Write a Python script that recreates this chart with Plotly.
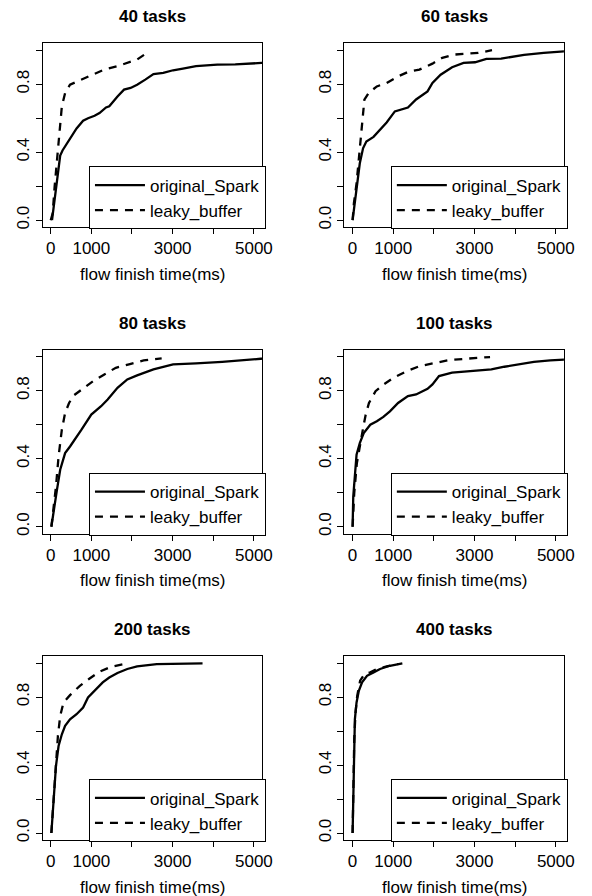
import plotly.graph_objects as go

# ---------------- data ----------------
panel_titles = ["40 tasks", "60 tasks", "80 tasks", "100 tasks", "200 tasks", "400 tasks"]
series_names = ["original_Spark", "leaky_buffer"]

x_tick_vals = [0, 1000, 2000, 3000, 4000, 5000]
x_tick_text = ["0", "1000", "", "3000", "", "5000"]
y_tick_vals = [0.0, 0.2, 0.4, 0.6, 0.8, 1.0]
y_tick_text = ["0.0", "", "0.4", "", "0.8", ""]
x_title = "flow finish time(ms)"

spark_40_x = [32, 72, 153, 233, 290, 394, 515, 636, 797, 918, 1079, 1200, 1361, 1441, 1643, 1804, 1965, 2126, 2327, 2528, 2770, 3011, 3253, 3575, 4098, 4541, 5185, 5400]
spark_40_y = [0.0, 0.08, 0.24, 0.38, 0.41, 0.45, 0.49, 0.54, 0.585, 0.60, 0.614, 0.63, 0.663, 0.67, 0.728, 0.768, 0.778, 0.797, 0.827, 0.86, 0.866, 0.882, 0.892, 0.906, 0.915, 0.917, 0.925, 0.927]
leaky_40_x = [0, 48, 97, 153, 209, 274, 354, 475, 717, 1039, 1320, 1643, 1965, 2126, 2367]
leaky_40_y = [0.0, 0.04, 0.2, 0.354, 0.53, 0.67, 0.748, 0.797, 0.823, 0.856, 0.886, 0.906, 0.929, 0.945, 0.984]

spark_60_x = [0, 32, 97, 177, 257, 338, 515, 660, 837, 1039, 1200, 1361, 1562, 1844, 1965, 2166, 2448, 2730, 3011, 3293, 3655, 4219, 4702, 5169, 5400]
spark_60_y = [0.0, 0.06, 0.2, 0.335, 0.423, 0.463, 0.49, 0.53, 0.575, 0.64, 0.65, 0.663, 0.71, 0.758, 0.807, 0.856, 0.9, 0.925, 0.929, 0.949, 0.951, 0.972, 0.984, 0.994, 0.997]
leaky_60_x = [0, 32, 97, 153, 233, 290, 394, 596, 837, 1119, 1361, 1643, 1965, 2206, 2488, 3092, 3430]
leaky_60_y = [0.0, 0.1, 0.217, 0.374, 0.571, 0.709, 0.748, 0.787, 0.807, 0.846, 0.872, 0.886, 0.921, 0.955, 0.974, 0.984, 1.0]

spark_80_x = [16, 72, 153, 233, 354, 475, 596, 757, 998, 1240, 1401, 1643, 1884, 2126, 2528, 3011, 3575, 4219, 5169, 5400]
spark_80_y = [0.0, 0.1, 0.217, 0.335, 0.433, 0.472, 0.512, 0.571, 0.66, 0.709, 0.748, 0.817, 0.866, 0.89, 0.925, 0.955, 0.961, 0.97, 0.988, 0.99]
leaky_80_x = [16, 72, 129, 193, 274, 354, 451, 564, 805, 1039, 1320, 1602, 1925, 2287, 2730]
leaky_80_y = [0.0, 0.118, 0.236, 0.413, 0.571, 0.669, 0.728, 0.772, 0.817, 0.856, 0.896, 0.935, 0.955, 0.978, 0.99]

spark_100_x = [0, 16, 48, 97, 177, 274, 435, 596, 757, 918, 1119, 1361, 1562, 1844, 1965, 2126, 2448, 2931, 3414, 3736, 4139, 4461, 4863, 5169, 5400]
spark_100_y = [0.0, 0.177, 0.276, 0.423, 0.492, 0.551, 0.6, 0.62, 0.646, 0.679, 0.728, 0.768, 0.778, 0.811, 0.837, 0.886, 0.906, 0.915, 0.925, 0.941, 0.955, 0.97, 0.978, 0.984, 0.986]
leaky_100_x = [0, 40, 105, 185, 266, 322, 403, 564, 765, 1006, 1329, 1651, 2054, 2376, 2778, 3382]
leaky_100_y = [0.0, 0.197, 0.374, 0.492, 0.59, 0.659, 0.728, 0.797, 0.837, 0.876, 0.915, 0.945, 0.965, 0.98, 0.988, 0.998]

spark_200_x = [16, 72, 129, 193, 274, 354, 475, 636, 797, 918, 1079, 1280, 1441, 1643, 1884, 2126, 2609, 3092, 3736]
spark_200_y = [0.0, 0.217, 0.394, 0.512, 0.581, 0.63, 0.669, 0.699, 0.738, 0.797, 0.837, 0.886, 0.915, 0.941, 0.965, 0.98, 0.994, 0.996, 0.998]
leaky_200_x = [16, 72, 129, 177, 233, 314, 475, 717, 958, 1200, 1481, 1884]
leaky_200_y = [0.0, 0.197, 0.413, 0.571, 0.689, 0.768, 0.811, 0.866, 0.909, 0.949, 0.978, 0.998]

spark_400_x = [0, 16, 32, 56, 97, 153, 233, 354, 515, 676, 918, 1224]
spark_400_y = [0.0, 0.276, 0.512, 0.669, 0.768, 0.837, 0.886, 0.925, 0.945, 0.965, 0.984, 0.998]
leaky_400_x = [0, 16, 40, 72, 113, 185, 290, 435, 596, 837, 1119]
leaky_400_y = [0.0, 0.276, 0.551, 0.709, 0.807, 0.896, 0.935, 0.945, 0.965, 0.98, 0.994]

panels = [
    (spark_40_x, spark_40_y, leaky_40_x, leaky_40_y),
    (spark_60_x, spark_60_y, leaky_60_x, leaky_60_y),
    (spark_80_x, spark_80_y, leaky_80_x, leaky_80_y),
    (spark_100_x, spark_100_y, leaky_100_x, leaky_100_y),
    (spark_200_x, spark_200_y, leaky_200_x, leaky_200_y),
    (spark_400_x, spark_400_y, leaky_400_x, leaky_400_y),
]

# ---------------- layout geometry (pixels) ----------------
W, H = 592, 896
col_left = [43.4, 351.0]
col_w = 223.6
row_top = [43.5, 350.7, 657.7]
row_h = 184.0
FONT = "Liberation Sans, Arial, Helvetica, sans-serif"
FS = 17

fig = go.Figure()
layout = dict(
    width=W, height=H,
    margin=dict(l=0, r=0, t=0, b=0),
    paper_bgcolor="white", plot_bgcolor="white",
    font=dict(family=FONT, size=FS, color="black"),
    showlegend=True,
)
annotations = []

for i, (sx, sy, lx, ly) in enumerate(panels):
    r, c = divmod(i, 2)
    k = "" if i == 0 else str(i + 1)
    x0 = col_left[c] / W
    x1 = (col_left[c] + col_w) / W
    y1 = 1 - row_top[r] / H
    y0 = 1 - (row_top[r] + row_h) / H
    leg = "legend" + k

    fig.add_trace(go.Scatter(x=sx, y=sy, mode="lines", name=series_names[0],
                             line=dict(color="black", width=2.3),
                             xaxis="x" + k, yaxis="y" + k, legend=leg))
    fig.add_trace(go.Scatter(x=lx, y=ly, mode="lines", name=series_names[1],
                             line=dict(color="black", width=2.3, dash="8px,7px"),
                             xaxis="x" + k, yaxis="y" + k, legend=leg))

    layout["xaxis" + k] = dict(
        domain=[x0, x1], anchor="y" + k, range=[-200, 5200],
        showgrid=False, zeroline=False, showline=True, mirror=True,
        linecolor="black", linewidth=1, ticks="outside", ticklen=6,
        tickcolor="black", tickvals=x_tick_vals, ticktext=x_tick_text,
        tickfont=dict(size=FS), ticklabelstandoff=0,
    )
    layout["yaxis" + k] = dict(
        domain=[y0, y1], anchor="x" + k, range=[-0.04, 1.04],
        showgrid=False, zeroline=False, showline=True, mirror=True,
        linecolor="black", linewidth=1, ticks="outside", ticklen=6,
        tickcolor="black", tickvals=y_tick_vals, ticktext=y_tick_text,
        tickangle=-90, tickfont=dict(size=FS), ticklabelstandoff=0,
    )
    layout[leg] = dict(
        x=x1 + 4.0 / W, y=y0 - 2.5 / H, xanchor="right", yanchor="bottom",
        xref="paper", yref="paper",
        bgcolor="white", bordercolor="black", borderwidth=1,
        font=dict(family=FONT, size=FS, color="black"),
        tracegroupgap=0, itemwidth=50, traceorder="normal",
    )
    # panel title
    annotations.append(dict(
        text="<b>" + panel_titles[i] + "</b>", xref="paper", yref="paper",
        x=(x0 + x1) / 2, y=y1 + 26.5 / H, xanchor="center", yanchor="middle",
        showarrow=False, font=dict(family=FONT, size=FS, color="black"),
    ))
    # x axis title
    annotations.append(dict(
        text=x_title, xref="paper", yref="paper",
        x=(x0 + x1) / 2, y=y0 - 47.5 / H, xanchor="center", yanchor="middle",
        showarrow=False, font=dict(family=FONT, size=FS, color="black"),
    ))

layout["annotations"] = annotations
fig.update_layout(**layout)
fig.write_html("out.html")
